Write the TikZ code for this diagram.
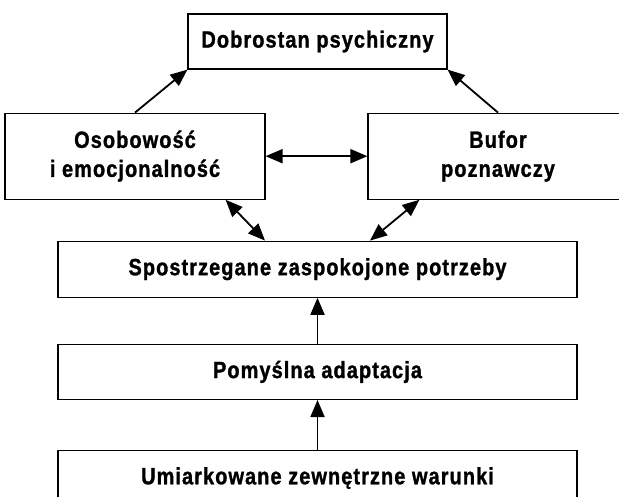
\documentclass[tikz,border=0pt]{standalone}
\usepackage{fontspec}
\setmainfont{Liberation Sans}[FakeStretch=0.85, LetterSpace=4.5, BoldFeatures={FakeBold=1.2}]
\usepackage{tikz}
\usetikzlibrary{shapes.geometric, arrows.meta}
\usetikzlibrary{positioning}
\tikzstyle{box} = [rectangle, draw, line width=1.2pt, align=center, font=\fontsize{23.5}{29}\selectfont\bfseries, inner sep=0pt]
\tikzstyle{arrow} = [line width=1.8pt,-{Triangle[length=17pt,width=14pt]}]
\tikzstyle{twoway} = [line width=1.8pt,{Triangle[length=17pt,width=14pt]}-{Triangle[length=17pt,width=14pt]}]

\begin{document}
\begin{tikzpicture}
        \useasboundingbox (0,0) rectangle (619pt,-497pt);
        \node (dobrostan) [box, minimum width=259pt, minimum height=55pt] at (317.5pt,-41.5pt) {Dobrostan psychiczny};
        \node (osobowosc) [box, minimum width=260pt, minimum height=86pt, below=43pt of dobrostan, xshift=-182.5pt] {Osobowość\\i emocjonalność};
        \node (bufor) [box, minimum width=260pt, minimum height=86pt, below=43pt of dobrostan, xshift=180.5pt] {Bufor\\poznawczy};
        \node (potrzeby) [box, minimum width=519pt, minimum height=56pt, below=171pt of dobrostan] {Spostrzegane zaspokojone potrzeby};
        \node (adaptacja) [box, minimum width=519pt, minimum height=55pt, below=46pt of potrzeby] {Pomyślna adaptacja};
        \node (warunki) [box, minimum width=519pt, minimum height=55pt, below=50pt of adaptacja] {Umiarkowane zewnętrzne warunki};
        
        \draw [arrow] (osobowosc.north) -- (dobrostan.south west);
        \draw [arrow] (bufor.north) -- (dobrostan.south east);
        \draw [twoway] (osobowosc) -- (bufor);
        \draw [twoway] ([xshift=-40pt]osobowosc.south east) -- ([xshift=-52.5pt]potrzeby.north);
        \draw [twoway] ([xshift=52pt]bufor.south west) -- ([xshift=52.5pt]potrzeby.north);
        \draw [arrow] (adaptacja) -- (potrzeby);
        \draw [arrow] (warunki) -- (adaptacja);
    \end{tikzpicture}
\end{document}
